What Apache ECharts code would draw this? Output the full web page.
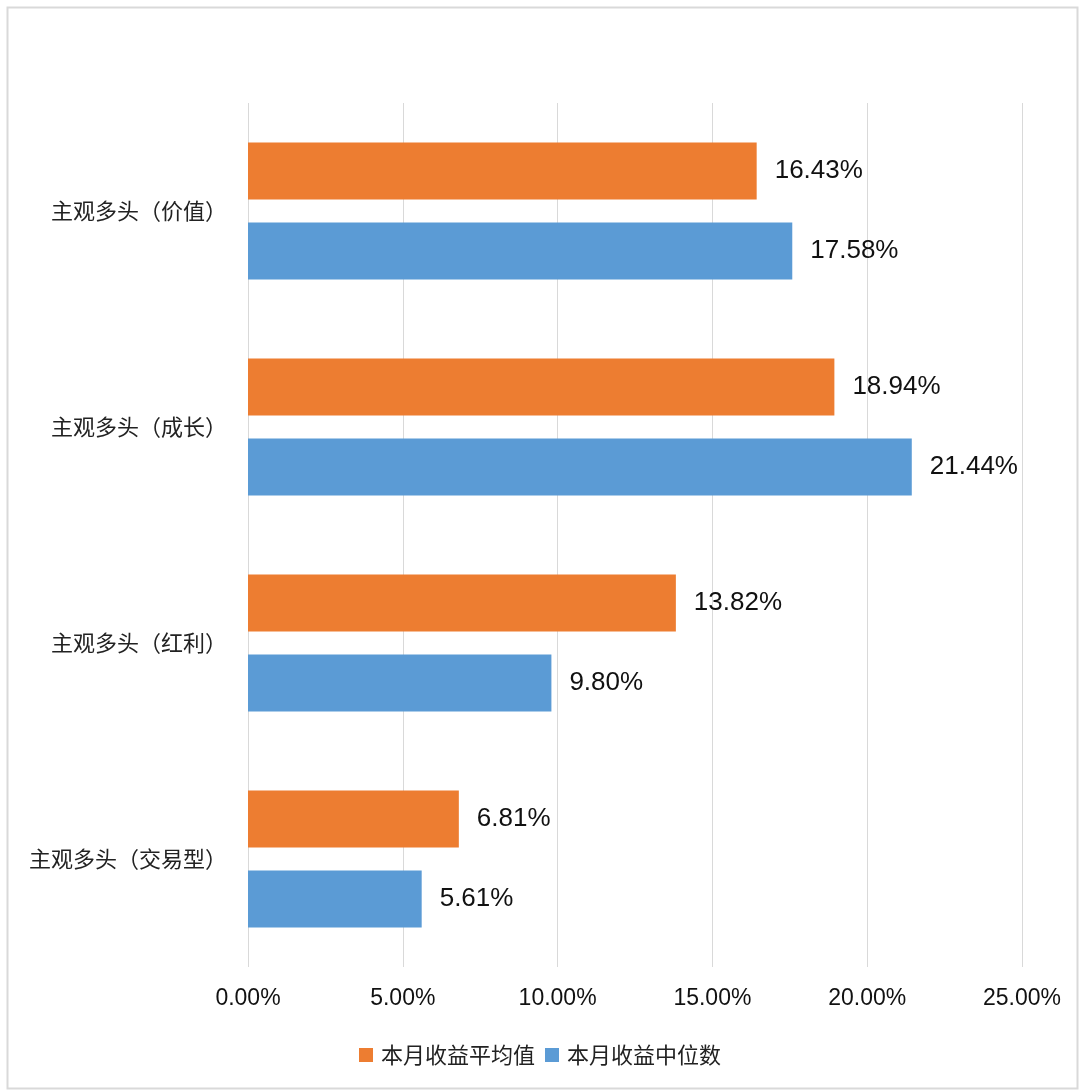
<!DOCTYPE html>
<html>
<head>
<meta charset="utf-8">
<script src="https://cdn.jsdelivr.net/npm/echarts@6/dist/echarts.min.js"></script>
<style>
html,body{margin:0;padding:0;background:#fff;}
#chart{width:1080px;height:1091px;}
</style>
</head>
<body>
<div id="chart"></div>
<script>
const categories = ['主观多头（价值）', '主观多头（成长）', '主观多头（红利）', '主观多头（交易型）'];
const seriesNames = ['本月收益平均值', '本月收益中位数'];
const meanValues = [16.43, 18.94, 13.82, 6.81];
const medianValues = [17.58, 21.44, 9.80, 5.61];
const xTicks = [0, 5, 10, 15, 20, 25];

const chart = echarts.init(document.getElementById('chart'), null, {renderer: 'canvas'});
const fontFamily = '"Liberation Sans", "Noto Sans CJK SC", sans-serif';
const cjkFont = '"Noto Sans CJK SC", "Liberation Sans", sans-serif';

chart.setOption({
  backgroundColor: '#ffffff',
  animation: false,
  graphic: [{
    type: 'rect',
    left: 5, top: 5,
    shape: {width: 1070, height: 1081},
    style: {fill: 'none', stroke: '#d9d9d9', lineWidth: 2},
    silent: true
  }],
  grid: {left: 248, right: 58, top: 103, bottom: 124, containLabel: false},
  legend: {
    data: seriesNames,
    left: 'center',
    top: 1039,
    itemWidth: 14,
    itemHeight: 14,
    itemGap: 10,
    icon: 'rect',
    textStyle: {fontSize: 22, color: '#222', fontFamily: cjkFont, padding: [0, 0, 0, 3]}
  },
  xAxis: {
    type: 'value',
    min: xTicks[0],
    max: xTicks[xTicks.length - 1],
    interval: 5,
    axisLine: {show: false},
    axisTick: {show: false},
    splitLine: {show: true, lineStyle: {color: '#d9d9d9', width: 1}},
    axisLabel: {
      fontSize: 23, color: '#111', fontFamily: fontFamily, margin: 20,
      formatter: v => v.toFixed(2) + '%'
    }
  },
  yAxis: {
    type: 'category',
    data: categories,
    inverse: true,
    axisLine: {show: false},
    axisTick: {show: false},
    splitLine: {show: false},
    axisLabel: {fontSize: 22, color: '#222', fontFamily: cjkFont, margin: 21}
  },
  series: [
    {
      name: seriesNames[0], type: 'bar', data: meanValues,
      barWidth: 57, barGap: '40%',
      itemStyle: {color: '#ED7D31'},
      label: {show: true, position: 'right', distance: 18, fontSize: 26, color: '#111', fontFamily: fontFamily,
        formatter: p => p.value.toFixed(2) + '%'}
    },
    {
      name: seriesNames[1], type: 'bar', data: medianValues,
      barWidth: 57, barGap: '40%',
      itemStyle: {color: '#5B9BD5'},
      label: {show: true, position: 'right', distance: 18, fontSize: 26, color: '#111', fontFamily: fontFamily,
        formatter: p => p.value.toFixed(2) + '%'}
    }
  ]
});
</script>
</body>
</html>
